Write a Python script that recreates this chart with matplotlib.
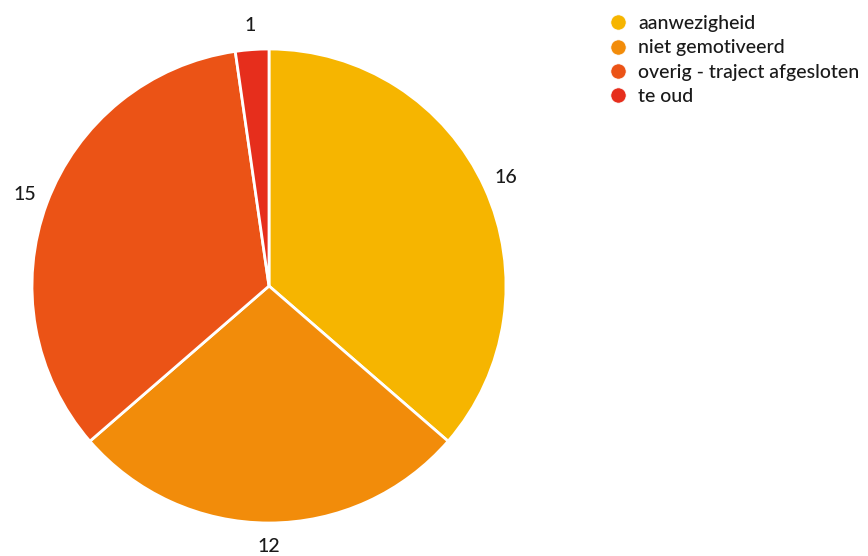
import matplotlib
matplotlib.use('Agg')
from matplotlib import pyplot as plt
from matplotlib.lines import Line2D

plt.rcParams['font.family'] = ['Lato', 'DejaVu Sans']

labels = ['aanwezigheid', 'niet gemotiveerd', 'overig - traject afgesloten', 'te oud']
values = [16, 12, 15, 1]
colors = ['#F6B500', '#F28C0A', '#EB5316', '#E62E1C']
text_color = '#1a1a1a'

fig = plt.figure(figsize=(8.68, 5.56), dpi=100)
ax = fig.add_axes([32 / 868, 33 / 556, 474 / 868, 474 / 556])

wedges, texts = ax.pie(values, colors=colors, labels=[str(v) for v in values],
                       startangle=90, counterclock=False, labeldistance=1.1,
                       wedgeprops=dict(edgecolor='white', linewidth=2),
                       textprops=dict(fontsize=14, color=text_color, fontweight='medium'))
for t in texts:
    t.set_ha('center')
    t.set_va('center')
ax.set_xlim(-1, 1)
ax.set_ylim(-1, 1)
ax.set_aspect('equal')

handles = [Line2D([], [], marker='o', linestyle='none', markersize=11,
                  markerfacecolor=c, markeredgecolor='white', markeredgewidth=0.5)
           for c in colors]
fig.legend(handles, labels, loc='upper left', bbox_to_anchor=(608 / 868, 1 - 15 / 556),
           frameon=False, prop=dict(size=14, weight='medium'), handletextpad=0.55,
           labelspacing=0.38, borderpad=0, borderaxespad=0, handlelength=1.0,
           labelcolor=text_color)

plt.savefig('out.png', dpi=100)
plt.close()
